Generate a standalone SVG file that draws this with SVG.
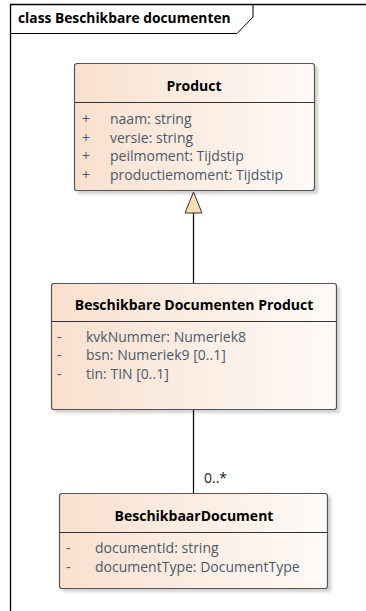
<svg xmlns="http://www.w3.org/2000/svg" width="366" height="611" viewBox="0 0 366 611">
<defs>
<linearGradient id="fill" x1="0" y1="0" x2="1" y2="0">
<stop offset="0" stop-color="#f8e0ce"/>
<stop offset="1" stop-color="#fefaf8"/>
</linearGradient>
<filter id="shadow" x="-10%" y="-10%" width="130%" height="130%">
<feDropShadow dx="3" dy="3" stdDeviation="1.5" flood-color="#000" flood-opacity="0.18"/>
</filter>
</defs>
<style>
.box{fill:url(#fill);stroke:#555;stroke-width:1.2;filter:url(#shadow)}
.sep{stroke:#333;stroke-width:1}
.title{font-family:"Open Sans","Noto Sans",sans-serif;font-size:14px;font-weight:bold;fill:#000;text-anchor:middle}
.attr{font-family:"Open Sans","Noto Sans",sans-serif;font-size:14px;fill:#4a5a68}
.frame{font-family:"Open Sans","Noto Sans",sans-serif;font-size:13.8px;font-weight:bold;fill:#000}
.conn{stroke:#000;stroke-width:1.2;fill:none}
.label{font-family:"Open Sans","Noto Sans",sans-serif;font-size:14px;fill:#222}
</style>
<rect width="366" height="611" fill="#fff"/>
<g id="frame">
<path d="M10.5 611 V4.5 H366" fill="none" stroke="#000" stroke-width="1.3"/>
<path d="M10.5 33.5 H237 L253 17 V4.5" fill="none" stroke="#000" stroke-width="1"/>
<text class="frame" x="18" y="23">class Beschikbare documenten</text>
</g>
<g id="connectors">
<line class="conn" x1="193.5" y1="213" x2="193.5" y2="283"/>
<polygon points="193.5,192 185,213 202,213" fill="#f9dcb0" stroke="#333" stroke-width="1"/>
<line class="conn" x1="193.5" y1="410" x2="193.5" y2="493"/>
<text class="label" x="204" y="483">0..*</text>
</g>
<g id="product">
<rect class="box" x="74.5" y="63.5" width="240" height="127" rx="2.5"/>
<line class="sep" x1="74.5" y1="102.5" x2="314.5" y2="102.5"/>
<text class="title" x="194" y="91">Product</text>
<text class="attr" x="82" y="124">+</text><text class="attr" x="110" y="124">naam: string</text>
<text class="attr" x="82" y="142.5">+</text><text class="attr" x="110" y="142.5">versie: string</text>
<text class="attr" x="82" y="161">+</text><text class="attr" x="110" y="161">peilmoment: Tijdstip</text>
<text class="attr" x="82" y="179.5">+</text><text class="attr" x="110" y="179.5">productiemoment: Tijdstip</text>
</g>
<g id="bdp">
<rect class="box" x="51.5" y="283.5" width="285" height="126" rx="2.5"/>
<line class="sep" x1="51.5" y1="321.5" x2="336.5" y2="321.5"/>
<text class="title" x="194" y="310">Beschikbare Documenten Product</text>
<text class="attr" x="57" y="341.5">-</text><text class="attr" x="86" y="341.5">kvkNummer: Numeriek8</text>
<text class="attr" x="57" y="360">-</text><text class="attr" x="86" y="360">bsn: Numeriek9 [0..1]</text>
<text class="attr" x="57" y="378.5">-</text><text class="attr" x="86" y="378.5">tin: TIN [0..1]</text>
</g>
<g id="beschikbaardocument">
<rect class="box" x="59.5" y="493.5" width="268" height="95" rx="2.5"/>
<line class="sep" x1="59.5" y1="532.5" x2="327.5" y2="532.5"/>
<text class="title" x="194" y="521">BeschikbaarDocument</text>
<text class="attr" x="66" y="553">-</text><text class="attr" x="95" y="553">documentId: string</text>
<text class="attr" x="66" y="572">-</text><text class="attr" x="95" y="572">documentType: DocumentType</text>
</g>
</svg>
